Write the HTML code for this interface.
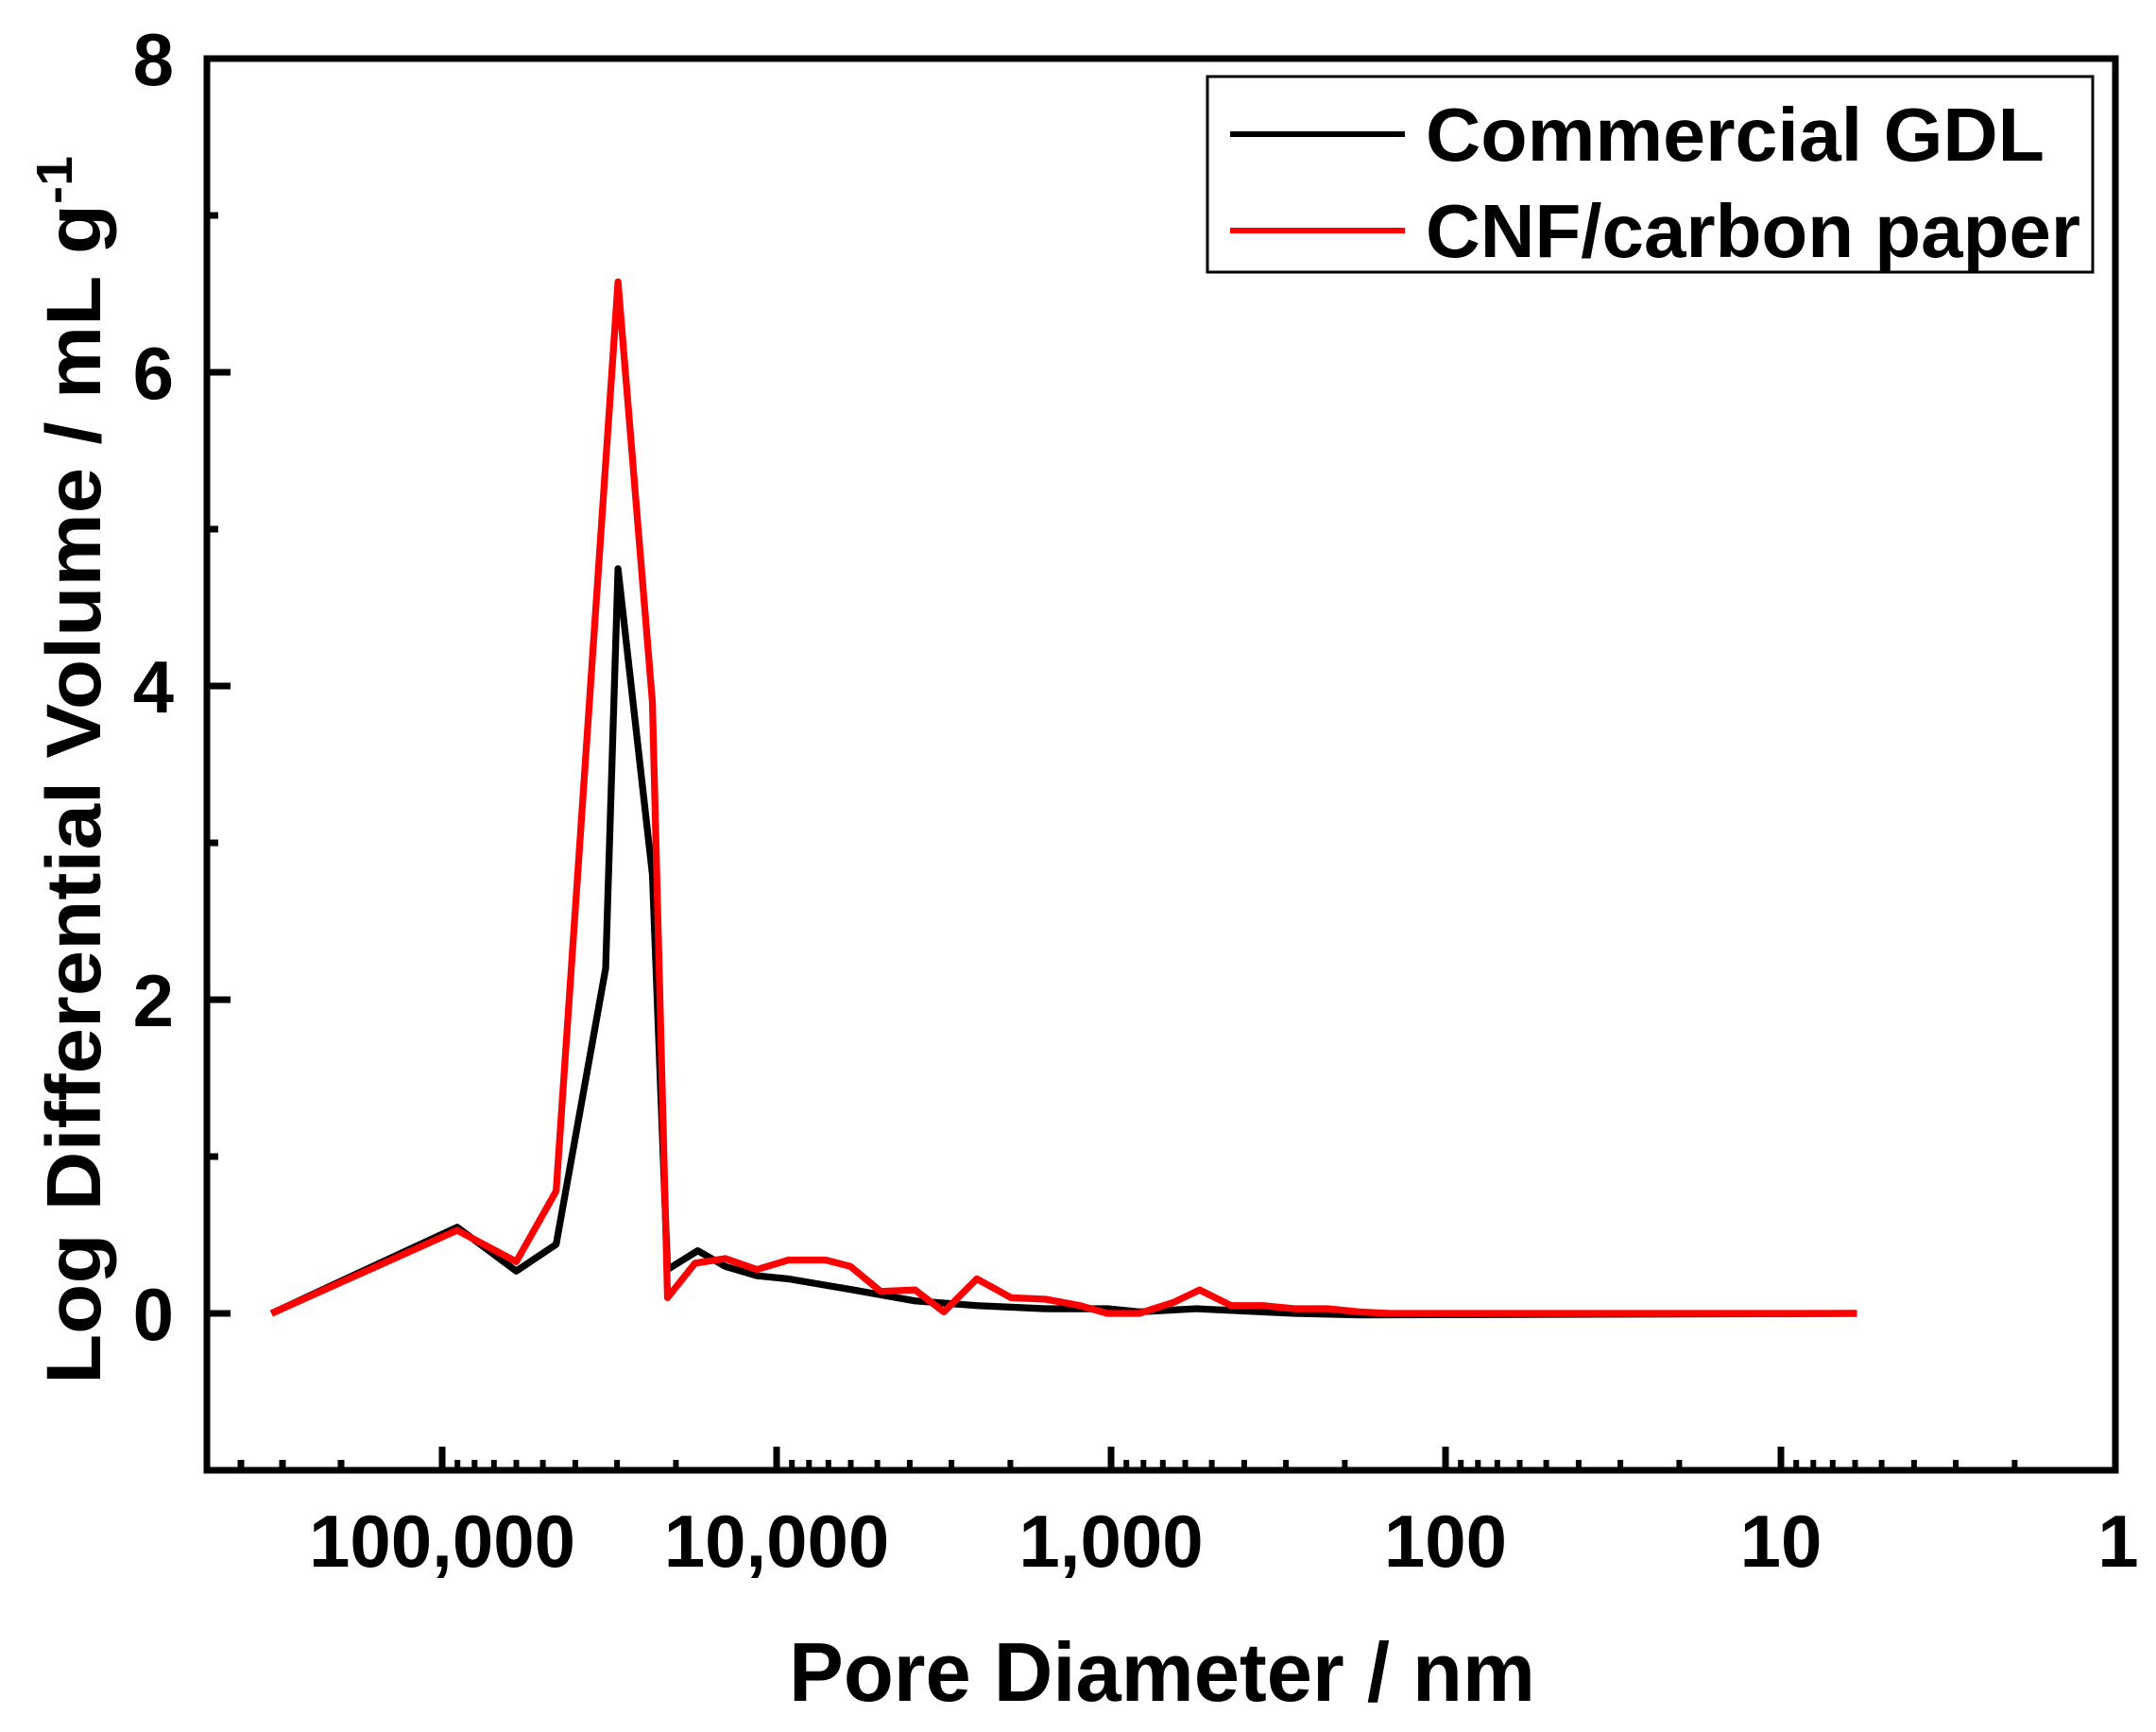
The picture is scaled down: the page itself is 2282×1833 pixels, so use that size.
<!DOCTYPE html>
<html><head><meta charset="utf-8"><style>html,body{margin:0;padding:0;background:#fff}svg{display:block}</style></head>
<body>
<svg width="2282" height="1833" viewBox="0 0 2282 1833" xmlns="http://www.w3.org/2000/svg" font-family="Liberation Sans, Arial, sans-serif" font-weight="bold">
<rect width="2282" height="1833" fill="#fff"/>
<g stroke="#000" stroke-width="7" fill="none">
<path d="M219,1390h25M219,1058h25M219,726h25M219,394h25M219,1556h12M219,1224h12M219,892h12M219,560h12M219,228h12"/>
<path d="M468,1556v-25M822,1556v-25M1176,1556v-25M1530,1556v-25M1885,1556v-25"/>
<path d="M255,1556v-11M299,1556v-11M361,1556v-11"/>
</g>
<g stroke="#000" stroke-width="6" fill="none" id="minors"></g>
<g font-size="78" text-anchor="end">
<text x="184" y="1418">0</text><text x="184" y="1086">2</text><text x="184" y="754">4</text><text x="184" y="422">6</text><text x="184" y="90">8</text>
</g>
<g font-size="78" text-anchor="middle">
<text x="468" y="1658">100,000</text><text x="822" y="1658">10,000</text><text x="1176" y="1658">1,000</text><text x="1530" y="1658">100</text><text x="1885" y="1658">10</text><text x="2242" y="1658">1</text>
</g>
<text x="1230" y="1800" font-size="88" text-anchor="middle" textLength="790" lengthAdjust="spacingAndGlyphs">Pore Diameter / nm</text>
<text transform="translate(106,815) rotate(-90)" font-size="82" text-anchor="middle" textLength="1300" lengthAdjust="spacingAndGlyphs">Log Differential Volume / mL g<tspan dy="-30" font-size="54">-1</tspan></text>
<g transform="translate(0.7,0) scale(1.4553,1.4555)" fill="none" stroke-linejoin="round">
<polyline stroke="#000" stroke-width="5" points="197,955 332,892.3 375,924.2 404,904.8 440,704.2 449,413.5 474,635.8 485,923.1 507,909.4 527,920.8 550,927.6 573,929.9 620,937.9 665,945.9 710,949.3 760,951.6 805,951.6 828,953.9 870,951.6 941,955 988,956.1 1350,955"/>
<polyline stroke="#f00" stroke-width="5" points="197,955 332,894.6 375,917.4 404,866.1 449,204.9 474,510.4 485,943.6 505,918.5 527,915.1 550,923.1 573,916.2 600,916.2 618,920.8 640,939 665,937.9 686,953.9 710,929.9 735,943.6 760,944.7 785,949.3 805,955 828,955 853,947 872,937.9 895,949.3 918,949.3 941,951.6 965,951.6 988,953.9 1010,955 1350,955"/>
</g>
<rect x="219" y="62" width="2020" height="1494" fill="none" stroke="#000" stroke-width="7"/>
<rect x="1278" y="81" width="937" height="207" fill="#fff" stroke="#000" stroke-width="3"/>
<path d="M1302,142H1487" stroke="#000" stroke-width="6"/>
<path d="M1302,244H1487" stroke="#f00" stroke-width="6"/>
<text x="1509" y="170" font-size="80" textLength="655" lengthAdjust="spacingAndGlyphs">Commercial GDL</text>
<text x="1509" y="272" font-size="80" textLength="693" lengthAdjust="spacingAndGlyphs">CNF/carbon paper</text>
<script>
(function(){var g=document.getElementById('minors');var d='';var majors=[468,822,1176,1530,1885];
majors.forEach(function(m){for(var k=2;k<=9;k++){var x=m+354*Math.log10(10/k);if(x<2236)d+='M'+x.toFixed(1)+',1556v-11';}});
var p=document.createElementNS('http://www.w3.org/2000/svg','path');p.setAttribute('d',d);g.appendChild(p);})();
</script>
</svg>
</body></html>
